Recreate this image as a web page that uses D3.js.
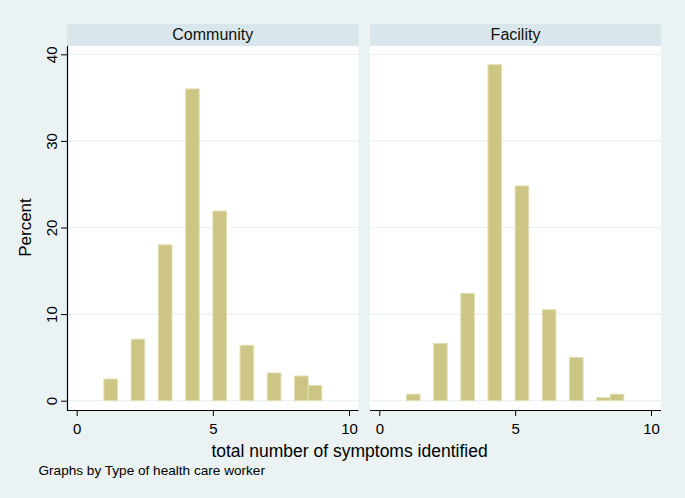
<!DOCTYPE html>
<html>
<head>
<meta charset="utf-8">
<script src="https://cdn.jsdelivr.net/npm/d3@7"></script>
<style>
  html, body { margin: 0; padding: 0; background: #eaf2f3; }
  svg { display: block; font-family: "Liberation Sans", Arial, sans-serif; }
</style>
</head>
<body>
<svg id="chart" width="685" height="498"></svg>
<script>
// ---- data ----
const panels = ["Community", "Facility"];
const symptomCounts = [1, 2, 3, 4, 5, 6, 7, 8, 9];
// histogram bins (width 0.5) that each count falls into
const binLow  = [1, 2, 3, 4, 5, 6, 7, 8, 8.5];
const binHigh = [1.5, 2.5, 3.5, 4.5, 5.5, 6.5, 7.5, 8.5, 9];
const communityPct = [2.5, 7.1, 18.0, 36.0, 21.9, 6.4, 3.2, 2.85, 1.75];
const facilityPct  = [0.75, 6.6, 12.4, 38.8, 24.8, 10.5, 5.0, 0.35, 0.75];
const xTicks = [0, 5, 10];
const yTicks = [0, 10, 20, 30, 40];
const yTitle = "Percent";
const xTitle = "total number of symptoms identified";
const note = "Graphs by Type of health care worker";

const seriesValues = [communityPct, facilityPct];

// ---- layout ----
const svg = d3.select("#chart");
const W = 685, H = 498;
svg.append("rect").attr("width", W).attr("height", H).attr("fill", "#eaf2f3");

const plotTop = 46, plotBottom = 410;
const headerTop = 24;
const panelBoxes = [
  { left: 67, right: 358.5, x0: 76.7, x10: 349 },
  { left: 370, right: 661, x0: 379.3, x10: 651 }
];
const y = d3.scaleLinear().domain([0, 40]).range([400.7, 54.3]);

panelBoxes.forEach((p, i) => {
  const x = d3.scaleLinear().domain([0, 10]).range([p.x0, p.x10]);
  const g = svg.append("g");

  // header strip
  g.append("rect")
    .attr("x", p.left).attr("y", headerTop)
    .attr("width", p.right - p.left).attr("height", plotTop - headerTop)
    .attr("fill", "#d9e6eb");
  g.append("text")
    .attr("x", (p.left + p.right) / 2).attr("y", 34)
    .attr("text-anchor", "middle").attr("dominant-baseline", "central")
    .attr("font-size", 16).attr("fill", "#111")
    .text(panels[i]);

  // plot area
  g.append("rect")
    .attr("x", p.left).attr("y", plotTop)
    .attr("width", p.right - p.left).attr("height", plotBottom - plotTop)
    .attr("fill", "#ffffff");

  // gridlines
  g.selectAll("line.grid").data(yTicks).join("line")
    .attr("class", "grid")
    .attr("x1", p.left).attr("x2", p.right)
    .attr("y1", d => y(d)).attr("y2", d => y(d))
    .attr("stroke", "#eaf2f3").attr("stroke-width", 1.2);

  // bars
  const vals = seriesValues[i];
  g.selectAll("rect.bar").data(symptomCounts).join("rect")
    .attr("class", "bar")
    .attr("x", (d, k) => x(binLow[k]))
    .attr("width", (d, k) => x(binHigh[k]) - x(binLow[k]))
    .attr("y", (d, k) => y(vals[k]))
    .attr("height", (d, k) => y(0) - y(vals[k]))
    .attr("fill", "#ccc583")
    .attr("stroke", "#e2dfb2")
    .attr("stroke-width", 1);

  // x axis
  const xAxis = d3.axisBottom(x).tickValues(xTicks).tickSize(6).tickPadding(4).tickFormat(d3.format("d"));
  const xa = g.append("g").attr("transform", `translate(0,${plotBottom})`).call(xAxis);
  xa.select(".domain").remove();
  xa.append("line").attr("x1", p.left).attr("x2", p.right).attr("y1", 0.5).attr("y2", 0.5)
    .attr("stroke", "#000").attr("stroke-width", 1.2);
  xa.selectAll(".tick line").attr("stroke", "#000");
  xa.selectAll(".tick text").attr("font-size", 15).attr("fill", "#000")
    .attr("font-family", "Liberation Sans, Arial, sans-serif").attr("dy", "0.9em");

  // y axis only on first panel
  if (i === 0) {
    const yAxis = d3.axisLeft(y).tickValues(yTicks).tickSize(6).tickPadding(0).tickFormat(d3.format("d"));
    const ya = g.append("g").attr("transform", `translate(${p.left},0)`).call(yAxis);
    ya.select(".domain").remove();
    ya.append("line").attr("x1", 0.5).attr("x2", 0.5).attr("y1", plotTop).attr("y2", plotBottom + 0.5)
      .attr("stroke", "#000").attr("stroke-width", 1.2);
    ya.selectAll(".tick line").attr("stroke", "#000");
    ya.selectAll(".tick text")
      .attr("font-size", 15).attr("fill", "#000")
      .attr("font-family", "Liberation Sans, Arial, sans-serif")
      .attr("x", 0).attr("dy", null)
      .attr("text-anchor", "middle")
      .attr("dominant-baseline", "central")
      .attr("transform", "translate(-16,0) rotate(-90)");
  }
});

// axis titles
svg.append("text")
  .attr("transform", `translate(25,${(y(0) + y(40)) / 2}) rotate(-90)`)
  .attr("text-anchor", "middle").attr("dominant-baseline", "central")
  .attr("font-size", 17).attr("fill", "#000").text(yTitle);

svg.append("text")
  .attr("x", 349.5).attr("y", 451)
  .attr("text-anchor", "middle").attr("dominant-baseline", "central")
  .attr("font-size", 17.5).attr("fill", "#000").text(xTitle);

svg.append("text")
  .attr("x", 38.5).attr("y", 470)
  .attr("dominant-baseline", "central")
  .attr("font-size", 13.6).attr("fill", "#000").text(note);
</script>
</body>
</html>
